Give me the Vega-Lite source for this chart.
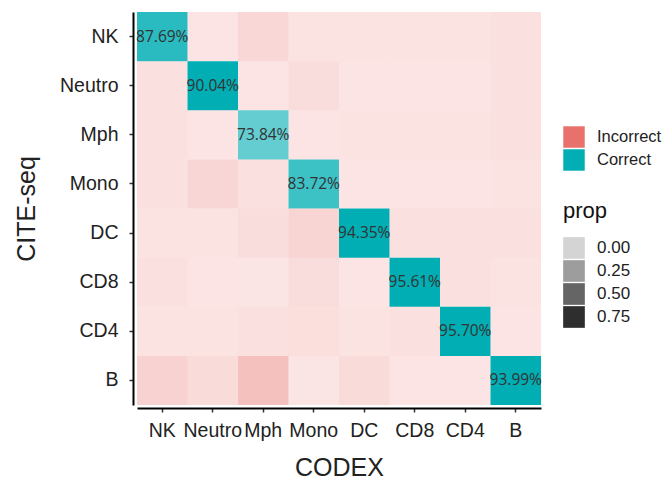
{
  "$schema": "https://vega.github.io/schema/vega-lite/v6.json",
  "width": 404,
  "height": 393,
  "autosize": {"type": "none"},
  "padding": {"left": 137, "top": 12, "right": 126, "bottom": 83},
  "background": "white",
  "config": {
    "view": {"stroke": null},
    "font": "Liberation Sans"
  },
  "data": {
    "values": [
      {"codex": "NK", "cite": "NK", "type": "Correct", "prop": 0.77, "label": "87.69%"},
      {"codex": "Neutro", "cite": "NK", "type": "Incorrect", "prop": 0.023, "label": ""},
      {"codex": "Mph", "cite": "NK", "type": "Incorrect", "prop": 0.124, "label": ""},
      {"codex": "Mono", "cite": "NK", "type": "Incorrect", "prop": 0.034, "label": ""},
      {"codex": "DC", "cite": "NK", "type": "Incorrect", "prop": 0.034, "label": ""},
      {"codex": "CD8", "cite": "NK", "type": "Incorrect", "prop": 0.034, "label": ""},
      {"codex": "CD4", "cite": "NK", "type": "Incorrect", "prop": 0.034, "label": ""},
      {"codex": "B", "cite": "NK", "type": "Incorrect", "prop": 0.045, "label": ""},

      {"codex": "NK", "cite": "Neutro", "type": "Incorrect", "prop": 0.045, "label": ""},
      {"codex": "Neutro", "cite": "Neutro", "type": "Correct", "prop": 0.96, "label": "90.04%"},
      {"codex": "Mph", "cite": "Neutro", "type": "Incorrect", "prop": 0.023, "label": ""},
      {"codex": "Mono", "cite": "Neutro", "type": "Incorrect", "prop": 0.079, "label": ""},
      {"codex": "DC", "cite": "Neutro", "type": "Incorrect", "prop": 0.023, "label": ""},
      {"codex": "CD8", "cite": "Neutro", "type": "Incorrect", "prop": 0.023, "label": ""},
      {"codex": "CD4", "cite": "Neutro", "type": "Incorrect", "prop": 0.023, "label": ""},
      {"codex": "B", "cite": "Neutro", "type": "Incorrect", "prop": 0.045, "label": ""},

      {"codex": "NK", "cite": "Mph", "type": "Incorrect", "prop": 0.045, "label": ""},
      {"codex": "Neutro", "cite": "Mph", "type": "Incorrect", "prop": 0.023, "label": ""},
      {"codex": "Mph", "cite": "Mph", "type": "Correct", "prop": 0.51, "label": "73.84%"},
      {"codex": "Mono", "cite": "Mph", "type": "Incorrect", "prop": 0.023, "label": ""},
      {"codex": "DC", "cite": "Mph", "type": "Incorrect", "prop": 0.034, "label": ""},
      {"codex": "CD8", "cite": "Mph", "type": "Incorrect", "prop": 0.034, "label": ""},
      {"codex": "CD4", "cite": "Mph", "type": "Incorrect", "prop": 0.034, "label": ""},
      {"codex": "B", "cite": "Mph", "type": "Incorrect", "prop": 0.056, "label": ""},

      {"codex": "NK", "cite": "Mono", "type": "Incorrect", "prop": 0.045, "label": ""},
      {"codex": "Neutro", "cite": "Mono", "type": "Incorrect", "prop": 0.136, "label": ""},
      {"codex": "Mph", "cite": "Mono", "type": "Incorrect", "prop": 0.056, "label": ""},
      {"codex": "Mono", "cite": "Mono", "type": "Correct", "prop": 0.69, "label": "83.72%"},
      {"codex": "DC", "cite": "Mono", "type": "Incorrect", "prop": 0.023, "label": ""},
      {"codex": "CD8", "cite": "Mono", "type": "Incorrect", "prop": 0.023, "label": ""},
      {"codex": "CD4", "cite": "Mono", "type": "Incorrect", "prop": 0.023, "label": ""},
      {"codex": "B", "cite": "Mono", "type": "Incorrect", "prop": 0.034, "label": ""},

      {"codex": "NK", "cite": "DC", "type": "Incorrect", "prop": 0.034, "label": ""},
      {"codex": "Neutro", "cite": "DC", "type": "Incorrect", "prop": 0.034, "label": ""},
      {"codex": "Mph", "cite": "DC", "type": "Incorrect", "prop": 0.079, "label": ""},
      {"codex": "Mono", "cite": "DC", "type": "Incorrect", "prop": 0.147, "label": ""},
      {"codex": "DC", "cite": "DC", "type": "Correct", "prop": 0.96, "label": "94.35%"},
      {"codex": "CD8", "cite": "DC", "type": "Incorrect", "prop": 0.045, "label": ""},
      {"codex": "CD4", "cite": "DC", "type": "Incorrect", "prop": 0.045, "label": ""},
      {"codex": "B", "cite": "DC", "type": "Incorrect", "prop": 0.056, "label": ""},

      {"codex": "NK", "cite": "CD8", "type": "Incorrect", "prop": 0.045, "label": ""},
      {"codex": "Neutro", "cite": "CD8", "type": "Incorrect", "prop": 0.023, "label": ""},
      {"codex": "Mph", "cite": "CD8", "type": "Incorrect", "prop": 0.011, "label": ""},
      {"codex": "Mono", "cite": "CD8", "type": "Incorrect", "prop": 0.079, "label": ""},
      {"codex": "DC", "cite": "CD8", "type": "Incorrect", "prop": 0.023, "label": ""},
      {"codex": "CD8", "cite": "CD8", "type": "Correct", "prop": 0.96, "label": "95.61%"},
      {"codex": "CD4", "cite": "CD8", "type": "Incorrect", "prop": 0.056, "label": ""},
      {"codex": "B", "cite": "CD8", "type": "Incorrect", "prop": 0.034, "label": ""},

      {"codex": "NK", "cite": "CD4", "type": "Incorrect", "prop": 0.034, "label": ""},
      {"codex": "Neutro", "cite": "CD4", "type": "Incorrect", "prop": 0.034, "label": ""},
      {"codex": "Mph", "cite": "CD4", "type": "Incorrect", "prop": 0.056, "label": ""},
      {"codex": "Mono", "cite": "CD4", "type": "Incorrect", "prop": 0.068, "label": ""},
      {"codex": "DC", "cite": "CD4", "type": "Incorrect", "prop": 0.034, "label": ""},
      {"codex": "CD8", "cite": "CD4", "type": "Incorrect", "prop": 0.045, "label": ""},
      {"codex": "CD4", "cite": "CD4", "type": "Correct", "prop": 0.96, "label": "95.70%"},
      {"codex": "B", "cite": "CD4", "type": "Incorrect", "prop": 0.023, "label": ""},

      {"codex": "NK", "cite": "B", "type": "Incorrect", "prop": 0.17, "label": ""},
      {"codex": "Neutro", "cite": "B", "type": "Incorrect", "prop": 0.10, "label": ""},
      {"codex": "Mph", "cite": "B", "type": "Incorrect", "prop": 0.305, "label": ""},
      {"codex": "Mono", "cite": "B", "type": "Incorrect", "prop": 0.011, "label": ""},
      {"codex": "DC", "cite": "B", "type": "Incorrect", "prop": 0.09, "label": ""},
      {"codex": "CD8", "cite": "B", "type": "Incorrect", "prop": 0.023, "label": ""},
      {"codex": "CD4", "cite": "B", "type": "Incorrect", "prop": 0.023, "label": ""},
      {"codex": "B", "cite": "B", "type": "Correct", "prop": 0.96, "label": "93.99%"}
    ]
  },
  "encoding": {
    "x": {
      "field": "codex", "type": "nominal",
      "sort": ["NK", "Neutro", "Mph", "Mono", "DC", "CD8", "CD4", "B"],
      "title": "CODEX",
      "axis": {
        "labelAngle": 0, "labelFontSize": 19.5, "labelColor": "#222", "labelPadding": 9,
        "titleFontSize": 25, "titleFontWeight": "normal", "titleColor": "#222", "titlePadding": 16,
        "domainColor": "#000", "domainWidth": 2, "tickColor": "#333", "tickSize": 4, "tickWidth": 1.5,
        "offset": 3, "grid": false
      }
    },
    "y": {
      "field": "cite", "type": "nominal",
      "sort": ["NK", "Neutro", "Mph", "Mono", "DC", "CD8", "CD4", "B"],
      "title": "CITE-seq",
      "axis": {
        "labelFontSize": 19.5, "labelColor": "#222", "labelPadding": 11,
        "titleFontSize": 25, "titleFontWeight": "normal", "titleColor": "#222", "titlePadding": 20,
        "domainColor": "#000", "domainWidth": 2, "tickColor": "#333", "tickSize": 4, "tickWidth": 1.5,
        "offset": 4, "grid": false
      }
    }
  },
  "layer": [
    {
      "mark": {"type": "rect"},
      "encoding": {
        "color": {
          "field": "type", "type": "nominal",
          "scale": {"domain": ["Incorrect", "Correct"], "range": ["#E8716B", "#00AEB3"]},
          "legend": {
            "title": null, "orient": "none", "legendX": 426, "legendY": 114,
            "symbolType": "square", "symbolSize": 460, "symbolStrokeWidth": 0, "symbolOpacity": 1,
            "labelFontSize": 16.5, "labelColor": "#222", "rowPadding": 1, "labelOffset": 12
          }
        },
        "opacity": {
          "field": "prop", "type": "quantitative",
          "scale": {"domain": [0, 0.96], "range": [0.17, 1]},
          "legend": {
            "title": "prop", "orient": "none", "legendX": 426, "legendY": 189,
            "values": [0, 0.25, 0.5, 0.75], "format": ".2f",
            "symbolType": "square", "symbolSize": 470, "symbolFillColor": "#000", "symbolStrokeWidth": 0,
            "titleFontSize": 22, "titleFontWeight": "normal", "titleColor": "#111", "titlePadding": 14,
            "labelFontSize": 17, "labelColor": "#222", "rowPadding": 1, "labelOffset": 12
          }
        }
      }
    },
    {
      "transform": [{"filter": "datum.label != ''"}],
      "mark": {"type": "text", "font": "Open Sans", "fontSize": 15.5, "color": "#333"},
      "encoding": {"text": {"field": "label"}}
    }
  ]
}
